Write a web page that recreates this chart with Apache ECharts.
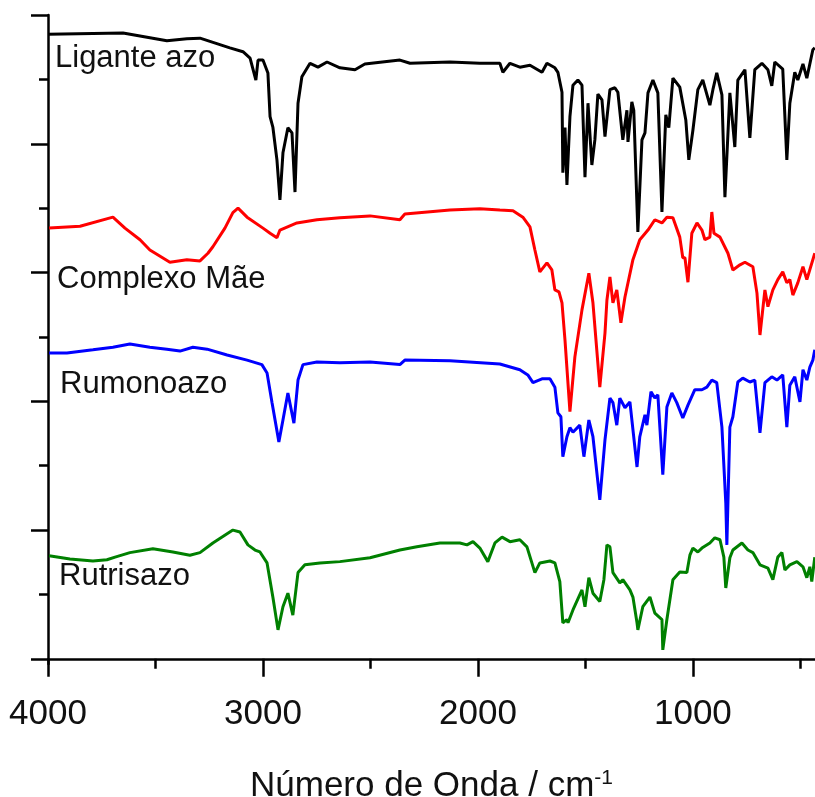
<!DOCTYPE html>
<html>
<head>
<meta charset="utf-8">
<script src="https://cdn.jsdelivr.net/npm/echarts@6/dist/echarts.min.js"></script>
<style>
  html, body { margin: 0; padding: 0; background: #fff; }
  #chart { width: 815px; height: 797px; }
</style>
</head>
<body>
<div id="chart"></div>
<script>
// [wavenumber (cm-1), transmittance offset]
const ligante = [
  [4000, 97.0], [3651, 97.2], [3447, 96.0], [3354, 96.3], [3293, 96.4], [3154, 94.9], [3093, 94.3],
  [3060, 93.3], [3033, 89.9], [3023, 93.0], [3000, 93.0], [2977, 91.0], [2967, 84.2], [2954, 82.6],
  [2935, 77.5], [2921, 71.3], [2907, 78.6], [2884, 82.5], [2865, 81.7], [2851, 72.5], [2837, 86.3],
  [2819, 90.4], [2781, 92.5], [2744, 91.9], [2702, 92.7], [2642, 91.8], [2572, 91.5], [2526, 92.4],
  [2363, 93.0], [2316, 92.5], [2130, 92.7], [1991, 92.5], [1898, 92.5], [1884, 91.1], [1851, 92.5],
  [1805, 91.9], [1758, 92.2], [1702, 91.1], [1679, 92.5], [1642, 91.8], [1628, 91.1], [1609, 88.0],
  [1605, 75.5], [1595, 82.5], [1586, 73.6], [1572, 84.2], [1558, 89.1], [1535, 89.9], [1516, 89.1],
  [1502, 74.8], [1488, 86.3], [1470, 76.7], [1456, 80.6], [1442, 87.7], [1423, 86.8], [1409, 81.1],
  [1386, 88.4], [1363, 88.7], [1349, 88.0], [1326, 80.6], [1307, 85.2], [1302, 80.3], [1284, 86.5],
  [1275, 85.2], [1256, 66.3], [1237, 80.6], [1223, 81.7], [1209, 87.9], [1186, 89.9], [1163, 87.9],
  [1144, 69.4], [1126, 84.5], [1112, 82.5], [1093, 90.2], [1061, 88.8], [1033, 83.7], [1019, 77.5],
  [1000, 82.1], [977, 88.4], [954, 89.9], [921, 86.0], [907, 88.4], [889, 91.0], [865, 87.6],
  [851, 71.7], [828, 87.9], [805, 79.5], [791, 89.9], [758, 91.5], [735, 80.9], [712, 91.5],
  [679, 92.5], [651, 91.5], [633, 89.0], [619, 92.7], [582, 91.6], [563, 77.5], [549, 86.3],
  [526, 91.1], [512, 89.9], [488, 92.4], [470, 90.2], [442, 94.6], [433, 94.9]
];

const complexoMae = [
  [3995, 66.9], [3851, 67.2], [3698, 68.6], [3642, 66.9], [3572, 65.1], [3526, 63.5], [3433, 61.6],
  [3354, 62.0], [3293, 61.8], [3256, 63.0], [3233, 64.0], [3177, 66.9], [3140, 69.3], [3116, 70.0],
  [3074, 68.6], [3000, 66.9], [2967, 66.1], [2935, 65.4], [2921, 66.6], [2842, 67.7], [2749, 68.2],
  [2642, 68.5], [2502, 68.8], [2363, 68.2], [2340, 69.1], [2130, 69.7], [1991, 69.9], [1898, 69.7],
  [1837, 69.6], [1791, 68.6], [1758, 67.1], [1735, 63.5], [1712, 60.1], [1679, 61.5], [1656, 60.4],
  [1642, 57.3], [1623, 57.0], [1609, 55.3], [1595, 49.5], [1572, 38.4], [1549, 46.9], [1516, 54.2],
  [1484, 59.9], [1465, 55.3], [1433, 42.2], [1409, 50.6], [1400, 55.7], [1386, 59.3], [1372, 55.3],
  [1354, 57.3], [1335, 52.2], [1316, 56.2], [1279, 62.0], [1247, 65.1], [1209, 66.6], [1177, 68.2],
  [1144, 67.7], [1121, 68.6], [1093, 68.5], [1061, 65.5], [1047, 62.3], [1037, 62.3], [1023, 58.5],
  [1005, 66.1], [981, 67.7], [958, 66.6], [944, 65.1], [921, 65.5], [912, 69.4], [902, 66.1],
  [874, 65.5], [837, 63.0], [814, 60.4], [781, 61.2], [758, 61.6], [721, 60.9], [702, 56.8],
  [688, 50.3], [665, 57.3], [651, 54.7], [628, 57.3], [605, 58.9], [582, 60.1], [563, 58.4],
  [549, 58.9], [535, 56.5], [512, 58.4], [488, 60.9], [470, 58.9], [433, 63.0]
];

const rumonoazo = [
  [3995, 47.5], [3912, 47.5], [3791, 48.0], [3698, 48.4], [3619, 48.9], [3526, 48.4], [3447, 48.1],
  [3386, 47.8], [3326, 48.4], [3260, 48.1], [3167, 47.2], [3074, 46.4], [3005, 45.7], [2981, 44.4],
  [2958, 39.8], [2926, 33.7], [2907, 37.1], [2884, 41.3], [2856, 36.6], [2837, 43.3], [2814, 45.7],
  [2749, 46.1], [2642, 46.0], [2502, 46.1], [2363, 45.7], [2340, 46.4], [2130, 46.3], [1898, 45.8],
  [1805, 44.9], [1768, 44.1], [1744, 42.9], [1702, 43.5], [1665, 43.5], [1642, 42.2], [1628, 38.2],
  [1614, 37.6], [1605, 31.4], [1586, 34.5], [1572, 35.9], [1558, 35.2], [1526, 36.3], [1507, 31.4],
  [1484, 37.1], [1465, 34.5], [1433, 24.7], [1409, 34.0], [1386, 40.5], [1372, 39.8], [1354, 36.3],
  [1340, 40.5], [1316, 39.0], [1293, 39.9], [1260, 29.8], [1247, 34.5], [1223, 37.9], [1214, 36.3],
  [1195, 41.5], [1177, 40.5], [1163, 41.0], [1140, 28.6], [1121, 39.1], [1098, 41.3], [1075, 39.8],
  [1047, 37.4], [1023, 39.4], [991, 41.8], [958, 41.8], [935, 42.2], [912, 43.3], [889, 42.9],
  [865, 36.0], [847, 24.2], [842, 17.7], [828, 36.0], [814, 37.6], [791, 43.0], [768, 43.6],
  [735, 43.0], [712, 43.3], [688, 35.1], [665, 42.9], [633, 43.8], [609, 43.3], [582, 44.1],
  [563, 36.0], [549, 42.5], [526, 43.8], [502, 39.9], [488, 44.9], [470, 43.3], [456, 45.3],
  [442, 46.4], [433, 48.0]
];

const rutrisazo = [
  [3995, 16.0], [3898, 15.5], [3791, 15.2], [3726, 15.4], [3688, 15.8], [3619, 16.5], [3512, 17.1],
  [3419, 16.6], [3340, 16.1], [3293, 16.5], [3233, 18.0], [3140, 20.0], [3107, 19.7], [3070, 17.7],
  [3037, 16.9], [3014, 16.6], [2981, 14.9], [2954, 9.6], [2930, 4.5], [2907, 8.1], [2884, 10.2],
  [2861, 6.8], [2837, 13.4], [2805, 14.6], [2735, 14.9], [2642, 15.1], [2502, 15.7], [2363, 16.9],
  [2284, 17.4], [2177, 18.0], [2084, 18.0], [2051, 17.7], [2023, 18.2], [1991, 17.2], [1954, 15.1],
  [1921, 18.0], [1888, 18.9], [1851, 18.2], [1805, 18.5], [1772, 17.4], [1749, 14.9], [1735, 13.4],
  [1712, 14.9], [1665, 15.2], [1642, 14.9], [1619, 12.0], [1605, 5.6], [1586, 6.1], [1581, 5.6],
  [1558, 7.6], [1516, 10.7], [1502, 8.1], [1484, 12.6], [1465, 10.2], [1433, 8.9], [1414, 12.3],
  [1400, 17.7], [1386, 17.4], [1372, 13.4], [1340, 11.8], [1326, 12.3], [1293, 10.7], [1279, 9.6],
  [1260, 5.6], [1256, 4.5], [1233, 8.1], [1200, 9.6], [1177, 7.1], [1144, 6.1], [1140, 1.4],
  [1121, 6.1], [1093, 12.3], [1061, 13.5], [1028, 13.4], [1014, 16.1], [1000, 17.2], [977, 16.6],
  [958, 17.2], [921, 18.0], [898, 18.8], [874, 18.5], [856, 15.8], [847, 11.0], [828, 15.7],
  [814, 16.9], [772, 18.0], [744, 16.9], [721, 16.5], [688, 14.6], [651, 14.1], [628, 12.3],
  [605, 15.8], [586, 16.5], [572, 13.8], [549, 14.6], [516, 15.1], [488, 14.3], [470, 12.6],
  [456, 14.3], [447, 12.0], [433, 15.8]
];

const seriesNames = ['Ligante azo', 'Complexo Mãe', 'Rumonoazo', 'Rutrisazo'];
const seriesColors = ['#000000', '#ff0000', '#0000ff', '#008000'];
const xMajorTicks = [4000, 3000, 2000, 1000];
const xMinorTicks = [3500, 2500, 1500, 500];
const yMajorTicks = [0, 20, 40, 60, 80, 100];
const yMinorTicks = [10, 30, 50, 70, 90];

const chart = echarts.init(document.getElementById('chart'), null, { renderer: 'canvas' });

const font = 'Liberation Sans, Arial, sans-serif';
const axisLine = { show: true, lineStyle: { color: '#000', width: 2.5 } };

const makeSeries = (data, i) => ({
  name: seriesNames[i],
  type: 'line',
  data: data,
  showSymbol: false,
  symbol: 'none',
  lineStyle: { color: seriesColors[i], width: 3 },
  itemStyle: { color: seriesColors[i] },
  animation: false,
});

const labelY = [60, 281, 386, 578];
const labelX = [55, 57, 60, 59];

chart.setOption({
  backgroundColor: '#fff',
  animation: false,
  grid: { left: 48, right: 0, top: 15, bottom: 133, containLabel: false, outerBoundsMode: 'none' },
  xAxis: [
    {
      type: 'value',
      inverse: true,
      min: 432,
      max: 4000,
      position: 'bottom',
      axisLine: axisLine,
      axisTick: { show: true, length: 18, customValues: xMajorTicks, lineStyle: { color: '#000', width: 2.5 } },
      axisLabel: {
        show: true, customValues: xMajorTicks, margin: 33,
        fontSize: 35, color: '#111', fontFamily: font,
        formatter: (v) => String(v),
      },
      splitLine: { show: false },
      name: '{a|Número de Onda / cm}{s|-1}',
      nameLocation: 'middle',
      nameGap: 104,
      nameTextStyle: {
        fontFamily: font,
        color: '#111',
        rich: {
          a: { fontSize: 35, fontFamily: font, color: '#111', lineHeight: 36 },
          s: { fontSize: 21, fontFamily: font, color: '#111', verticalAlign: 'top', lineHeight: 36 },
        },
      },
    },
    {
      type: 'value',
      inverse: true,
      min: 432,
      max: 4000,
      position: 'bottom',
      axisLine: { show: false },
      axisTick: { show: true, length: 10, customValues: xMinorTicks, lineStyle: { color: '#000', width: 2.5 } },
      axisLabel: { show: false },
      splitLine: { show: false },
    },
  ],
  yAxis: [
    {
      type: 'value',
      min: -0.8,
      max: 100,
      position: 'left',
      axisLine: axisLine,
      axisTick: { show: true, length: 17, customValues: yMajorTicks, lineStyle: { color: '#000', width: 2.5 } },
      axisLabel: { show: false },
      splitLine: { show: false },
    },
    {
      type: 'value',
      min: -0.8,
      max: 100,
      position: 'left',
      axisLine: { show: false },
      axisTick: { show: true, length: 9, customValues: yMinorTicks, lineStyle: { color: '#000', width: 2.5 } },
      axisLabel: { show: false },
      splitLine: { show: false },
    },
  ],
  graphic: seriesNames.map((name, i) => ({
    type: 'text',
    left: labelX[i],
    top: labelY[i] - 17,
    style: { text: name, font: '31px ' + font, fill: '#111' },
    z: 10,
  })),
  series: [ligante, complexoMae, rumonoazo, rutrisazo].map(makeSeries),
});
</script>
</body>
</html>
